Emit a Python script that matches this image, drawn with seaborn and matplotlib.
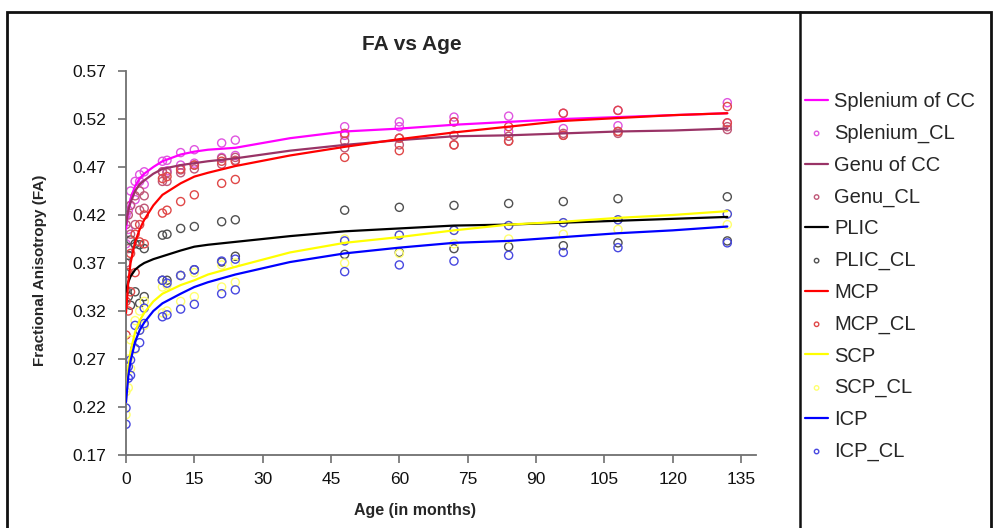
import matplotlib
matplotlib.use("Agg")
import matplotlib.pyplot as plt
import numpy as np
import pandas as pd
import seaborn as sns
from matplotlib.patches import Rectangle
from matplotlib.lines import Line2D
from matplotlib.ticker import FormatStrFormatter

# ---------------- data ----------------
tracts = ["Splenium of CC", "Genu of CC", "PLIC", "MCP", "SCP", "ICP"]
cl_names = ["Splenium_CL", "Genu_CL", "PLIC_CL", "MCP_CL", "SCP_CL", "ICP_CL"]

fit_ages = [0, 0.5, 1, 2, 3, 4, 6, 8, 12, 15, 18, 24, 36, 48, 60, 72, 84, 96, 108, 120, 132]
splenium_fit = [0.405, 0.425, 0.437, 0.450, 0.458, 0.463, 0.470, 0.476, 0.483, 0.486, 0.488, 0.490,
                0.500, 0.507, 0.510, 0.514, 0.517, 0.520, 0.522, 0.524, 0.526]
genu_fit = [0.410, 0.425, 0.433, 0.445, 0.452, 0.456, 0.463, 0.468, 0.472, 0.474, 0.476, 0.479,
            0.487, 0.493, 0.498, 0.502, 0.503, 0.505, 0.507, 0.508, 0.510]
plic_fit = [0.340, 0.350, 0.356, 0.363, 0.367, 0.370, 0.374, 0.377, 0.383, 0.387, 0.389, 0.392,
            0.398, 0.403, 0.406, 0.409, 0.410, 0.412, 0.414, 0.416, 0.418]
mcp_fit = [0.318, 0.350, 0.370, 0.392, 0.405, 0.415, 0.430, 0.441, 0.453, 0.460, 0.464, 0.471,
           0.482, 0.491, 0.499, 0.506, 0.512, 0.518, 0.521, 0.524, 0.526]
scp_fit = [0.225, 0.260, 0.278, 0.298, 0.310, 0.318, 0.330, 0.338, 0.347, 0.352, 0.358, 0.366,
           0.381, 0.391, 0.397, 0.404, 0.410, 0.413, 0.417, 0.420, 0.424]
icp_fit = [0.225, 0.252, 0.268, 0.288, 0.300, 0.308, 0.320, 0.328, 0.338, 0.345, 0.350, 0.358,
           0.371, 0.380, 0.386, 0.391, 0.393, 0.397, 0.401, 0.404, 0.408]

cl_ages = [0, 0.5, 1, 2, 3, 4, 8, 9, 12, 15, 21, 24, 48, 60, 72, 84, 96, 108, 132]
splenium_cl_hi = [0.420, 0.425, 0.445, 0.455, 0.462, 0.465, 0.476, 0.477, 0.485, 0.488, 0.495, 0.498,
                  0.512, 0.517, 0.522, 0.523, 0.526, 0.529, 0.537]
splenium_cl_lo = [0.390, 0.405, 0.430, 0.436, 0.455, 0.452, 0.465, 0.466, 0.472, 0.474, 0.480, 0.482,
                  0.503, 0.512, 0.517, 0.507, 0.510, 0.513, 0.516]
genu_cl_hi = [0.410, 0.420, 0.430, 0.440, 0.445, 0.440, 0.465, 0.464, 0.467, 0.472, 0.479, 0.480,
              0.497, 0.500, 0.503, 0.502, 0.505, 0.507, 0.512]
genu_cl_lo = [0.370, 0.385, 0.400, 0.410, 0.425, 0.427, 0.455, 0.455, 0.464, 0.468, 0.473, 0.477,
              0.490, 0.493, 0.493, 0.497, 0.503, 0.505, 0.509]
plic_cl_hi = [0.359, 0.378, 0.394, 0.390, 0.389, 0.385, 0.399, 0.400, 0.406, 0.408, 0.413, 0.415,
              0.425, 0.428, 0.430, 0.432, 0.434, 0.437, 0.439]
plic_cl_lo = [0.342, 0.335, 0.326, 0.340, 0.328, 0.335, 0.352, 0.352, 0.357, 0.363, 0.371, 0.377,
              0.379, 0.381, 0.385, 0.387, 0.388, 0.391, 0.393]
mcp_cl_hi = [0.330, 0.360, 0.380, 0.400, 0.410, 0.420, 0.458, 0.460, 0.468, 0.472, 0.476, 0.476,
             0.505, 0.500, 0.517, 0.512, 0.526, 0.529, 0.533]
mcp_cl_lo = [0.295, 0.320, 0.340, 0.360, 0.392, 0.390, 0.422, 0.425, 0.434, 0.441, 0.453, 0.457,
             0.480, 0.487, 0.493, 0.497, 0.503, 0.507, 0.516]
scp_cl_hi = [0.236, 0.270, 0.290, 0.310, 0.320, 0.330, 0.345, 0.347, 0.357, 0.360, 0.368, 0.370,
             0.395, 0.399, 0.404, 0.409, 0.412, 0.415, 0.421]
scp_cl_lo = [0.212, 0.240, 0.260, 0.280, 0.300, 0.305, 0.318, 0.320, 0.330, 0.335, 0.345, 0.350,
             0.370, 0.380, 0.390, 0.395, 0.400, 0.405, 0.410]
icp_cl_hi = [0.219, 0.262, 0.269, 0.305, 0.300, 0.323, 0.352, 0.349, 0.357, 0.363, 0.372, 0.374,
             0.393, 0.399, 0.404, 0.409, 0.412, 0.415, 0.421]
icp_cl_lo = [0.202, 0.250, 0.253, 0.281, 0.287, 0.307, 0.314, 0.316, 0.322, 0.327, 0.338, 0.342,
             0.361, 0.368, 0.372, 0.378, 0.381, 0.386, 0.391]

x_ticks = [0, 15, 30, 45, 60, 75, 90, 105, 120, 135]
y_ticks = [0.17, 0.22, 0.27, 0.32, 0.37, 0.42, 0.47, 0.52, 0.57]

fits = [splenium_fit, genu_fit, plic_fit, mcp_fit, scp_fit, icp_fit]
cls_hi = [splenium_cl_hi, genu_cl_hi, plic_cl_hi, mcp_cl_hi, scp_cl_hi, icp_cl_hi]
cls_lo = [splenium_cl_lo, genu_cl_lo, plic_cl_lo, mcp_cl_lo, scp_cl_lo, icp_cl_lo]

line_colors = ["#FF00FF", "#993366", "#000000", "#FF0000", "#FFFF00", "#0000FF"]
marker_colors = ["#E055E0", "#C05878", "#505050", "#E04848", "#FFFF70", "#4848E0"]

# ---------------- plot ----------------
sns.set_theme(style="white")
plt.rcParams["font.family"] = ["Liberation Sans", "DejaVu Sans"]

fig = plt.figure(figsize=(9.94, 5.28), dpi=100)
ax = fig.add_axes([126 / 994, 73 / 528, 630 / 994, 384 / 528])

for name, cname, fit, hi, lo, lc, mc in zip(tracts, cl_names, fits, cls_hi, cls_lo,
                                              line_colors, marker_colors):
    df_fit = pd.DataFrame({"age": fit_ages, "fa": fit})
    sns.lineplot(data=df_fit, x="age", y="fa", ax=ax, color=lc, linewidth=1.6,
                 estimator=None, label=name, zorder=3)
    df_cl = pd.DataFrame({"age": cl_ages + cl_ages, "fa": hi + lo})
    sns.scatterplot(data=df_cl, x="age", y="fa", ax=ax, color=mc, s=34, marker="o",
                    label=cname, zorder=2)
    coll = ax.collections[-1]
    coll.set_facecolor("none")
    coll.set_edgecolor(mc)
    coll.set_linewidth(1.0)

ax.set_xlim(0, 138.3)
ax.set_ylim(0.17, 0.57)
ax.set_xticks(x_ticks)
ax.set_yticks(y_ticks)
ax.yaxis.set_major_formatter(FormatStrFormatter("%.2f"))
for side in ["top", "right"]:
    ax.spines[side].set_visible(False)
for side in ["left", "bottom"]:
    ax.spines[side].set_color("#707070")
    ax.spines[side].set_linewidth(1.3)
ax.tick_params(axis="both", direction="out", length=6, width=1.2, color="#707070",
               labelsize=12.5, labelcolor="#111111")
ax.tick_params(axis="x", pad=6, bottom=True)
ax.tick_params(axis="y", pad=8, left=True)
ax.set_xlabel("")
ax.set_ylabel("")

fig.text(415 / 994, 1 - 510 / 528, "Age (in months)", ha="center", va="center",
         fontsize=11.5, fontweight="bold")
fig.text(40 / 994, 1 - 270 / 528, "Fractional Anisotropy (FA)", ha="center", va="center",
         rotation=90, fontsize=11, fontweight="bold")
fig.text(412 / 994, 1 - 45 / 528, "FA vs Age", ha="center", va="center",
         fontsize=15, fontweight="bold")

handles, labels = ax.get_legend_handles_labels()
ax.legend(handles, labels, loc="upper left", bbox_to_anchor=(805 / 994, 1 - 92 / 528),
          bbox_transform=fig.transFigure, frameon=False, fontsize=14.5,
          handlelength=1.15, handletextpad=0.3, labelspacing=0.63, borderpad=0,
          borderaxespad=0, markerscale=0.55)

# outer frame and divider
fig.add_artist(Rectangle((7 / 994, -0.02), (991 - 7) / 994, 1.02 - 12 / 528,
                         transform=fig.transFigure, fill=False, edgecolor="#111111",
                         linewidth=2))
fig.add_artist(Line2D([800 / 994, 800 / 994], [-0.02, 1 - 12 / 528],
                      transform=fig.transFigure, color="#111111", linewidth=1.8))

fig.savefig("out.png", dpi=100)
